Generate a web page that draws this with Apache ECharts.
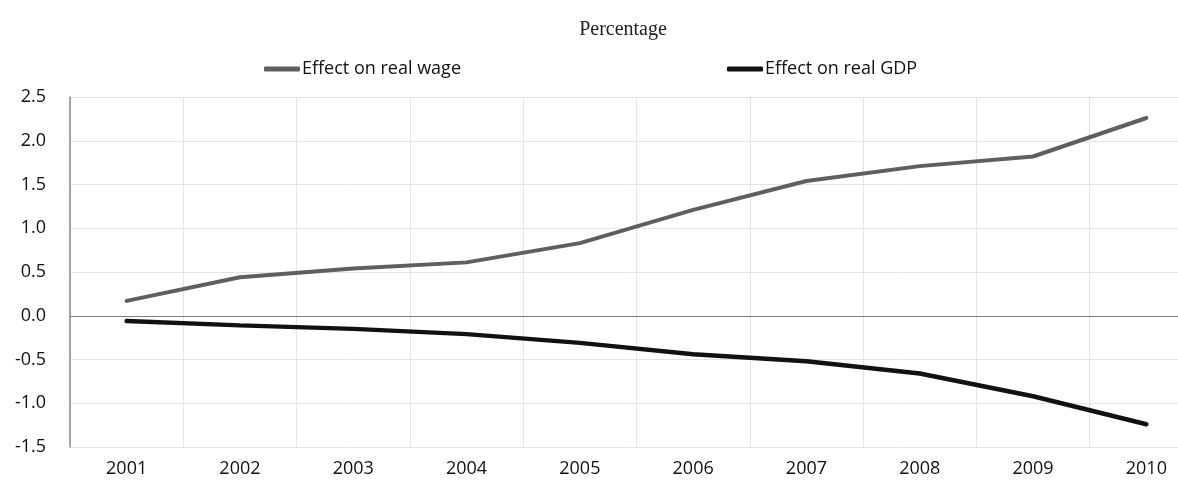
<!DOCTYPE html>
<html>
<head>
<meta charset="utf-8">
<script src="https://cdn.jsdelivr.net/npm/echarts@6/dist/echarts.min.js"></script>
<style>
  html, body { margin: 0; padding: 0; background: #fff; }
  #main { width: 1178px; height: 488px; }
</style>
</head>
<body>
<div id="main"></div>
<script>
var years = ['2001', '2002', '2003', '2004', '2005', '2006', '2007', '2008', '2009', '2010'];
var realWage = [0.17, 0.44, 0.54, 0.61, 0.83, 1.21, 1.54, 1.71, 1.82, 2.26];
var realGdp = [-0.06, -0.11, -0.15, -0.21, -0.31, -0.44, -0.52, -0.66, -0.92, -1.24];

var myChart = echarts.init(document.getElementById('main'));

var sans = 'Open Sans';
var option = {
    animation: false,
    title: {
        text: 'Percentage',
        left: 618,
        textAlign: 'center',
        top: 15,
        textStyle: {
            fontFamily: 'Liberation Serif',
            fontWeight: 'normal',
            fontSize: 20,
            color: '#222'
        }
    },
    legend: {
        top: 55,
        left: 259,
        itemGap: 266,
        itemWidth: 36,
        itemHeight: 5,
        icon: 'roundRect',
        textStyle: { fontFamily: sans, fontSize: 18, color: '#111', padding: [0, 0, 0, -3] },
        data: ['Effect on real wage', 'Effect on real GDP']
    },
    grid: {
        left: 70,
        top: 97,
        width: 1133,
        height: 350,
        outerBoundsMode: 'none'
    },
    xAxis: {
        type: 'category',
        data: years,
        boundaryGap: true,
        axisLine: { show: false },
        axisTick: { show: false },
        axisLabel: { fontFamily: sans, fontSize: 18, color: '#111', margin: 13 },
        splitLine: { show: true, interval: 0, lineStyle: { color: '#e4e4e4', width: 1 } }
    },
    yAxis: {
        type: 'value',
        min: -1.5,
        max: 2.5,
        interval: 0.5,
        axisLine: { show: true, lineStyle: { color: '#888', width: 1.5 } },
        axisTick: { show: false },
        axisLabel: {
            fontFamily: sans, fontSize: 18, color: '#111', margin: 24,
            formatter: function (v) { return v.toFixed(1); }
        },
        splitLine: { lineStyle: { color: '#e4e4e4', width: 1 } }
    },
    series: [
        {
            name: 'Effect on real wage',
            type: 'line',
            data: realWage,
            symbol: 'none',
            itemStyle: { color: '#5f5f5f' },
            lineStyle: { color: '#5f5f5f', width: 4, cap: 'round' },
            markLine: {
                silent: true,
                symbol: 'none',
                label: { show: false },
                lineStyle: { color: '#808080', width: 1.2, type: 'solid' },
                data: [{ yAxis: 0 }]
            }
        },
        {
            name: 'Effect on real GDP',
            type: 'line',
            data: realGdp,
            symbol: 'none',
            itemStyle: { color: '#111' },
            lineStyle: { color: '#111', width: 4.5, cap: 'round' }
        }
    ]
};

myChart.setOption(option);
</script>
</body>
</html>
